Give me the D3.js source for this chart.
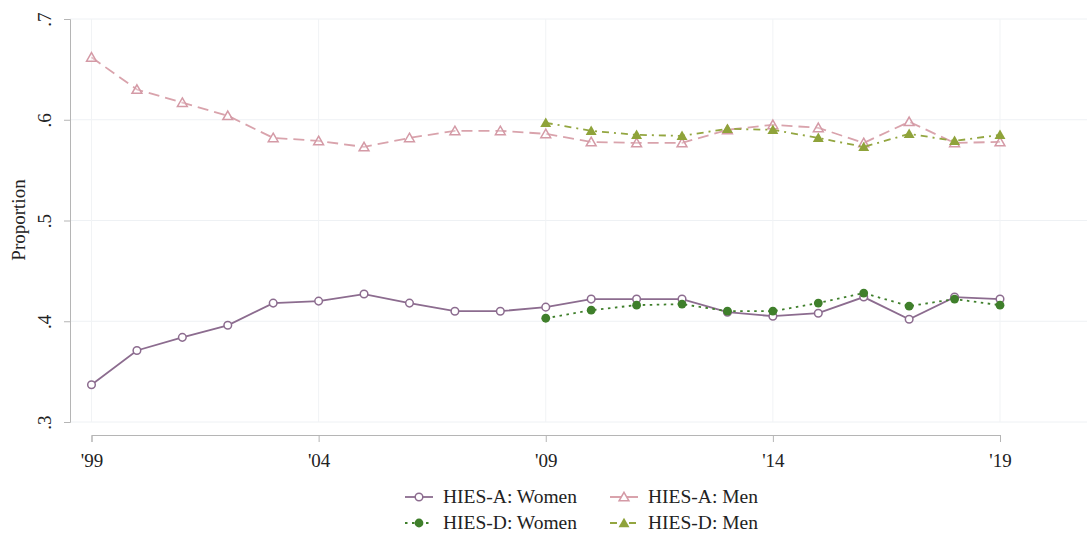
<!DOCTYPE html>
<html><head><meta charset="utf-8">
<script src="https://cdn.jsdelivr.net/npm/d3@7"></script>
<style>body{margin:0;background:#fff}svg{display:block}text{font-family:"Liberation Serif","Times New Roman",serif;fill:#222}</style>
</head><body>
<svg id="c" width="1087" height="538"></svg>
<script>
const yearsA = d3.range(1999, 2020);
const yearsD = d3.range(2009, 2020);
const hiesAWomen = [0.337,0.371,0.384,0.396,0.418,0.420,0.427,0.418,0.410,0.410,0.414,0.422,0.422,0.422,0.409,0.405,0.408,0.424,0.402,0.424,0.422];
const hiesAMen   = [0.662,0.630,0.617,0.604,0.582,0.579,0.573,0.582,0.589,0.589,0.586,0.578,0.577,0.577,0.590,0.595,0.592,0.577,0.598,0.577,0.578];
const hiesDWomen = [0.403,0.411,0.416,0.417,0.410,0.410,0.418,0.428,0.415,0.422,0.416];
const hiesDMen   = [0.597,0.589,0.585,0.584,0.591,0.590,0.582,0.573,0.586,0.579,0.585];
const yTicks = [0.3,0.4,0.5,0.6,0.7];
const xTicks = [1999,2004,2009,2014,2019];
const xTickLabels = ["'99","'04","'09","'14","'19"];
const legendLabels = ["HIES-A: Women","HIES-A: Men","HIES-D: Women","HIES-D: Men"];

const svg = d3.select("#c");
const x = d3.scaleLinear().domain([1999,2019]).range([91.5,1000]);
const y = d3.scaleLinear().domain([0.3,0.7]).range([422,19]);

// gridlines
const grid = svg.append("g");
grid.selectAll(".hg").data(yTicks).enter().append("line")
  .attr("x1",70).attr("x2",1087).attr("y1",d=>y(d)).attr("y2",d=>y(d))
  .attr("stroke","#eef1f4").attr("stroke-width",1);
grid.selectAll(".vg").data(xTicks).enter().append("line")
  .attr("y1",y(0.7)).attr("y2",y(0.3)).attr("x1",d=>x(d)).attr("x2",d=>x(d))
  .attr("stroke","#f1f3f5").attr("stroke-width",1);

// y axis
const yAxis = d3.axisLeft(y).tickValues(yTicks).tickSize(6).tickFormat(d=>d3.format(".1f")(d).replace(/^0/,""));
const gy = svg.append("g").attr("transform","translate(70,0)").call(yAxis);
gy.select(".domain").attr("stroke","#b5b5b5");
gy.selectAll(".tick line").attr("stroke","#b5b5b5");
gy.selectAll(".tick text").attr("font-size",19).attr("font-family","Liberation Serif, serif").attr("fill","#222")
  .attr("x",0).attr("dy",0).attr("text-anchor","middle")
  .attr("transform","translate(-19,0) rotate(-90)");

// x axis
const xAxis = d3.axisBottom(x).tickValues(xTicks).tickSize(7).tickFormat((d,i)=>xTickLabels[i]);
const gx = svg.append("g").attr("transform","translate(0,435)").call(xAxis);
gx.select(".domain").attr("stroke","#b5b5b5");
gx.selectAll(".tick line").attr("stroke","#b5b5b5");
gx.selectAll(".tick text").attr("font-size",19).attr("font-family","Liberation Serif, serif").attr("fill","#222").attr("y",19).attr("dy","0.71em");

// axis title
svg.append("text").attr("transform","translate(25,220) rotate(-90)").attr("text-anchor","middle")
  .attr("font-size",19).text("Proportion");

const series = [
  {years: yearsA, vals: hiesAWomen, color:"#8c6c8f", dash:null, marker:"circleHollow", mcolor:"#8c6c8f"},
  {years: yearsA, vals: hiesAMen, color:"#d9a3ac", dash:"11,6", marker:"triHollow", mcolor:"#d49aa6"},
  {years: yearsD, vals: hiesDWomen, color:"#3f7f2b", dash:"2.5,4.5", marker:"circleFill", mcolor:"#3f7f2b"},
  {years: yearsD, vals: hiesDMen, color:"#93a640", dash:"7,5,2,5", marker:"triFill", mcolor:"#8fa33a"}
];
const line = d3.line().x(d=>x(d[0])).y(d=>y(d[1]));
const tri = d3.symbol().type(d3.symbolTriangle).size(42);

function drawMarker(g, type, col, cx, cy){
  if(type==="circleHollow") g.append("circle").attr("cx",cx).attr("cy",cy).attr("r",3.8).attr("fill","#fff").attr("stroke",col).attr("stroke-width",1.5);
  else if(type==="circleFill") g.append("circle").attr("cx",cx).attr("cy",cy).attr("r",4.4).attr("fill",col);
  else if(type==="triHollow") g.append("path").attr("d",tri()).attr("transform",`translate(${cx},${cy+1})`).attr("fill","#fff").attr("fill-opacity",0.3).attr("stroke",col).attr("stroke-width",1.5);
  else g.append("path").attr("d",d3.symbol().type(d3.symbolTriangle).size(52)()).attr("transform",`translate(${cx},${cy+1})`).attr("fill",col);
}

const order = [1,0,3,2];
order.forEach(i=>{
  const s = series[i];
  const pts = s.years.map((yr,j)=>[yr,s.vals[j]]);
  const g = svg.append("g");
  g.append("path").datum(pts).attr("d",line).attr("fill","none").attr("stroke",s.color).attr("stroke-width",1.8)
    .attr("stroke-dasharray",s.dash);
  pts.forEach(p=>drawMarker(g,s.marker,s.mcolor,x(p[0]),y(p[1])));
});

// legend
const legPos = [[405,497],[610,497],[405,523],[610,523]];
legendLabels.forEach((lab,i)=>{
  const s = series[i];
  const [lx,ly] = legPos[i];
  const g = svg.append("g");
  g.append("line").attr("x1",lx).attr("x2",lx+28).attr("y1",ly).attr("y2",ly).attr("stroke",s.color).attr("stroke-width",1.8).attr("stroke-dasharray",s.dash);
  drawMarker(g,s.marker,s.mcolor,lx+14,ly);
  g.append("text").attr("x",lx+38).attr("y",ly+6).attr("font-size",19.5).text(lab);
});
</script>
</body></html>
